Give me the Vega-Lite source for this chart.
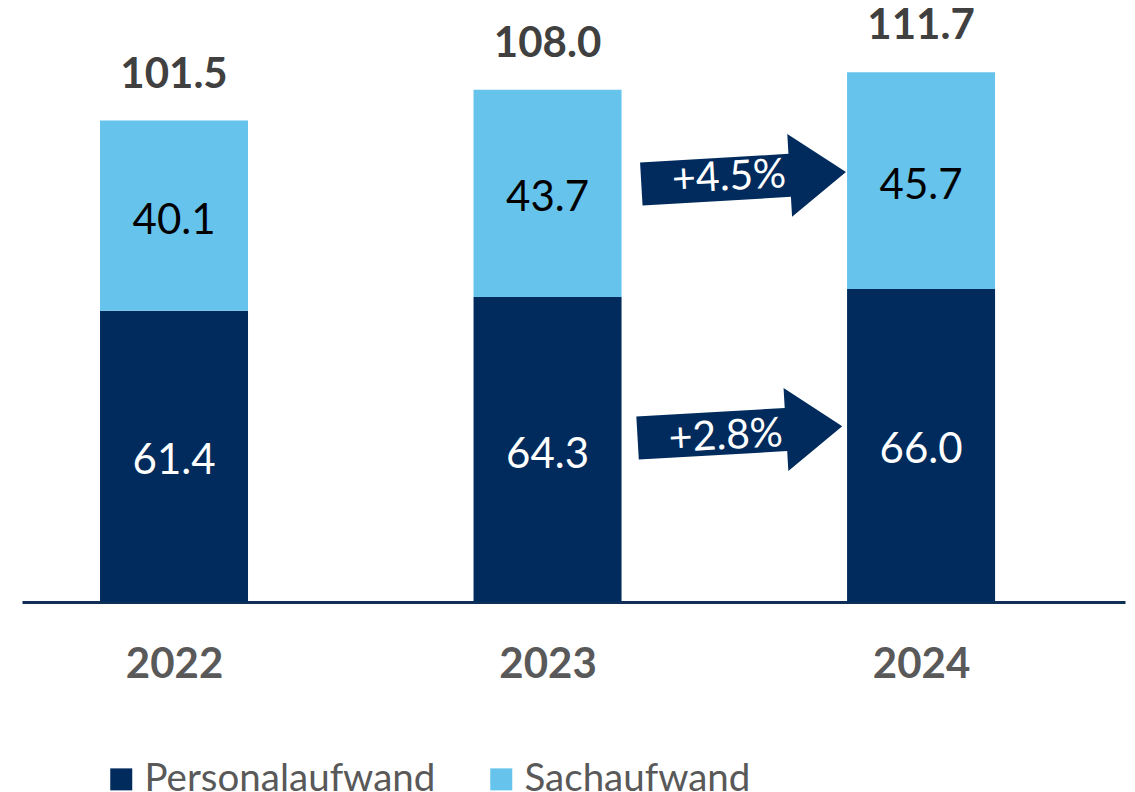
{
  "$schema": "https://vega.github.io/schema/vega-lite/v6.json",
  "width": 1103,
  "height": 602,
  "autosize": {"type": "none"},
  "padding": {"left": 22, "top": 0, "right": 10, "bottom": 190},
  "background": "white",
  "config": {"view": {"stroke": null}, "font": "Lato"},
  "datasets": {
    "bars": [
      {"year": 2022, "cat": "Personalaufwand", "value": 61.4},
      {"year": 2022, "cat": "Sachaufwand", "value": 40.1},
      {"year": 2023, "cat": "Personalaufwand", "value": 64.3},
      {"year": 2023, "cat": "Sachaufwand", "value": 43.7},
      {"year": 2024, "cat": "Personalaufwand", "value": 66.0},
      {"year": 2024, "cat": "Sachaufwand", "value": 45.7}
    ],
    "totals": [
      {"year": 2022, "total": 101.5},
      {"year": 2023, "total": 108.0},
      {"year": 2024, "total": 111.7}
    ],
    "arrows": [
      {"ax": 2023.525, "ay": 89.4, "lx": 2023.486, "ly": 89.4, "label": "+4.5%"},
      {"ax": 2023.515, "ay": 35.8, "lx": 2023.477, "ly": 34.8, "label": "+2.8%"}
    ]
  },
  "layer": [
    {
      "data": {"name": "bars"},
      "mark": {"type": "bar", "width": 148},
      "encoding": {
        "x": {
          "field": "year", "type": "quantitative",
          "scale": {"domain": [2021.593, 2024.546], "nice": false, "zero": false, "padding": 0},
          "axis": {
            "values": [2022, 2023, 2024], "format": "d", "title": null, "grid": false,
            "ticks": false, "domainColor": "#0f2f57", "domainWidth": 3,
            "labelFont": "Lato", "labelFontWeight": "bold", "labelFontSize": 42,
            "labelColor": "#595959", "labelBaseline": "middle", "labelPadding": 62
          }
        },
        "y": {
          "field": "value", "type": "quantitative", "stack": "zero",
          "scale": {"domain": [0, 126.93], "nice": false},
          "axis": null
        },
        "color": {
          "field": "cat", "type": "nominal",
          "scale": {"domain": ["Personalaufwand", "Sachaufwand"], "range": ["#002B5C", "#66C3EC"]},
          "legend": {
            "orient": "none", "legendX": 80, "legendY": 760, "direction": "horizontal",
            "title": null, "symbolType": "square", "symbolSize": 484, "symbolStrokeWidth": 0,
            "labelFont": "Lato", "labelFontSize": 38.5, "labelColor": "#595959", "labelLimit": 500,
            "labelOffset": 4, "columnPadding": 46
          }
        },
        "order": {"field": "cat", "sort": "ascending"}
      }
    },
    {
      "data": {"name": "bars"},
      "transform": [
        {"stack": "value", "groupby": ["year"], "sort": [{"field": "cat", "order": "ascending"}], "as": ["v0", "v1"]},
        {"calculate": "(datum.v0 + datum.v1) / 2", "as": "mid"}
      ],
      "mark": {"type": "text", "fontSize": 42, "font": "Lato", "align": "center", "baseline": "middle", "dy": 5},
      "encoding": {
        "x": {"field": "year", "type": "quantitative"},
        "y": {"field": "mid", "type": "quantitative"},
        "text": {"field": "value", "type": "quantitative", "format": ".1f"},
        "color": {"condition": {"test": "datum.cat === 'Sachaufwand'", "value": "#000000"}, "value": "#FFFFFF"}
      }
    },
    {
      "data": {"name": "totals"},
      "mark": {"type": "text", "fontSize": 42, "font": "Lato", "fontWeight": "bold", "color": "#404040", "align": "center", "baseline": "middle", "dy": -46},
      "encoding": {
        "x": {"field": "year", "type": "quantitative"},
        "y": {"field": "total", "type": "quantitative"},
        "text": {"field": "total", "type": "quantitative", "format": ".1f"}
      }
    },
    {
      "data": {"name": "arrows"},
      "mark": {
        "type": "point",
        "shape": "M-1,-0.21L0.45,-0.21L0.45,-0.405L1,0L0.45,0.405L0.45,0.21L-1,0.21Z",
        "filled": true, "fill": "#002B5C", "opacity": 1, "strokeWidth": 0,
        "size": 42025, "angle": 356.7
      },
      "encoding": {
        "x": {"field": "ax", "type": "quantitative"},
        "y": {"field": "ay", "type": "quantitative"}
      }
    },
    {
      "data": {"name": "arrows"},
      "mark": {"type": "text", "fontSize": 41, "font": "Lato", "color": "#FFFFFF", "align": "center", "baseline": "middle", "angle": 357},
      "encoding": {
        "x": {"field": "lx", "type": "quantitative"},
        "y": {"field": "ly", "type": "quantitative"},
        "text": {"field": "label", "type": "nominal"}
      }
    }
  ]
}
